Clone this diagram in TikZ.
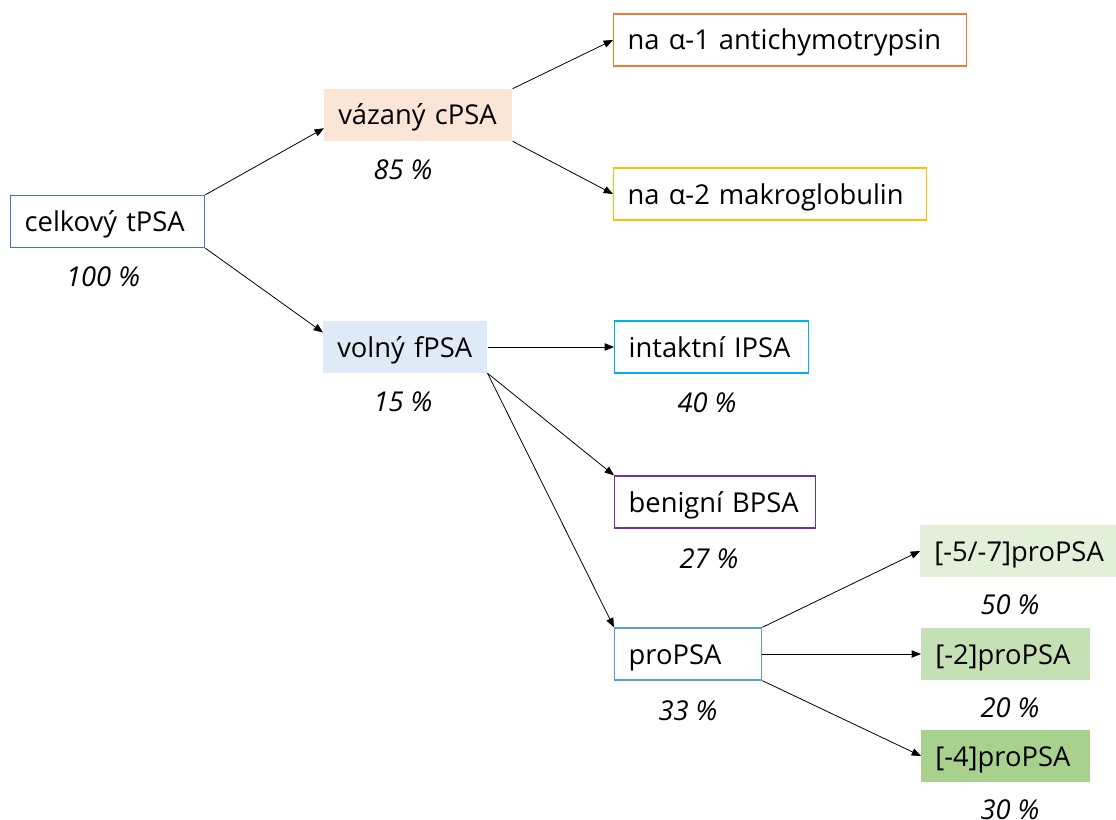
\documentclass[tikz,border=0pt]{standalone}
\usepackage{fontspec}
\setmainfont{Open Sans}
\usetikzlibrary{arrows.meta,positioning}
\definecolor{tblue}{HTML}{4472C4}
\definecolor{corange}{HTML}{FBE5D6}
\definecolor{aorange}{HTML}{ED7D31}
\definecolor{mgold}{HTML}{FFC000}
\definecolor{fblue}{HTML}{DEEBF7}
\definecolor{icyan}{HTML}{00B0F0}
\definecolor{bpurple}{HTML}{7030A0}
\definecolor{pblue}{HTML}{5B9BD5}
\definecolor{gA}{HTML}{E2F0D9}
\definecolor{gB}{HTML}{C5E0B4}
\definecolor{gC}{HTML}{A9D18E}
\begin{document}
\begin{tikzpicture}[x=0.75pt,y=-0.75pt,
    psa/.style={anchor=west, minimum height=39pt, inner xsep=10.5pt, align=left,
      text height=19pt, text depth=4pt, font=\fontsize{20.5}{24}\selectfont},
    box/.style={psa, draw=#1, line width=1pt},
    fbox/.style={psa, fill=#1},
    pct/.style={font=\fontsize{20.5}{24}\selectfont\itshape},
    arr/.style={-{Triangle[length=7pt,width=5.5pt]}, line width=0.6pt}]
    \useasboundingbox (0,0) rectangle (1116,820);
    % nodes (total, bound, free)
    \node[box=tblue, text width=124.5pt] (celk) at (10,221.5) {\mbox{celkový tPSA}};
    \node[fbox=corange, text width=120pt] (vaz) at (324,115) {\mbox{vázaný cPSA}};
    \node[fbox=fblue, text width=102pt] (volny) at (323,347) {\mbox{volný fPSA}};
    \node[box=aorange, text width=243.75pt] (anti) at (613,40) {\mbox{na α-1 antichymotrypsin}};
    \node[box=mgold, text width=213.75pt] (makro) at (613,194) {\mbox{na α-2 makroglobulin}};
    \node[box=icyan, text width=124.5pt] (intakt) at (614,347) {\mbox{intaktní IPSA}};
    \node[box=bpurple, text width=129.75pt] (benig) at (614,502) {\mbox{benigní BPSA}};
    \node[box=pblue, text width=89.25pt] (pro) at (614,654) {proPSA};
    % nodes (proPSA forms)
    \node[fbox=gA, text width=126pt] (m57) at (920,551) {\mbox{[-5/-7]proPSA}};
    \node[fbox=gB, text width=105.75pt] (m2) at (921,654) {\mbox{[-2]proPSA}};
    \node[fbox=gC, text width=105.75pt] (m4) at (921,756) {\mbox{[-4]proPSA}};
    % percentages
    \node[pct] (pcelk) at (103,277) {100 \%};
    \node[pct] (pvaz) at (403,170) {85 \%};
    \node[pct] (pvolny) at (403,402) {15 \%};
    \node[pct] (pintakt) at (707,403) {40 \%};
    \node[pct] (pbenig) at (709,559) {27 \%};
    \node[pct] (ppro) at (688,711) {33 \%};
    \node[pct] (pm57) at (1010,605) {50 \%};
    \node[pct] (pm2) at (1010,708) {20 \%};
    \node[pct] (pm4) at (1010,810) {30 \%};
    % edges
    \draw[arr] (celk.north east) -- (vaz.188);
    \draw[arr] (celk.south east) -- (volny.170);
    \draw[arr] (vaz.north east) -- (anti.west);
    \draw[arr] (vaz.south east) -- (makro.west);
    \draw[arr] (volny.east) -- (intakt.west);
    \draw[arr] (volny.south east) -- (benig.north west);
    \draw[arr] (volny.south east) -- (pro.north west);
    \draw[arr] (pro.north east) -- (m57.west);
    \draw[arr] (pro.east) -- (m2.west);
    \draw[arr] (pro.south east) -- (m4.west);
\end{tikzpicture}
\end{document}
